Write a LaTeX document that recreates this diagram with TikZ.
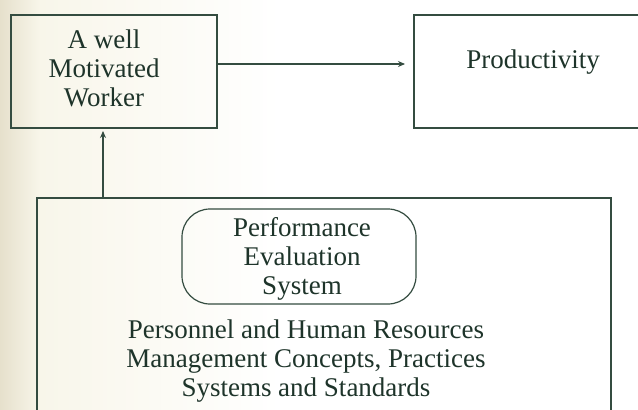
\documentclass[tikz,border=0pt]{standalone}
\usepackage{fontspec}
\setmainfont{Liberation Serif}
\usetikzlibrary{arrows.meta,shadings}
\definecolor{ink}{RGB}{30,52,42}
\definecolor{rule}{RGB}{52,76,64}
\definecolor{paper}{RGB}{230,224,204}
\definecolor{paperlight}{RGB}{248,246,234}
\begin{document}
\begin{tikzpicture}[x=1pt,y=-1pt,
  frame/.style={draw=rule,line width=1.2pt,inner sep=0pt},
  label/.style={text=ink,align=center,font=\fontsize{27}{29}\selectfont,inner sep=0pt},
  flow/.style={draw=rule,line width=1.2pt,-{Stealth[length=7pt,width=6pt]}}]
  % page and paper tint
  \useasboundingbox (0,0) rectangle (638,410);
  \clip (0,0) rectangle (638,410);
  \fill[white] (0,0) rectangle (638,410);
  \shade[left color=paper,right color=paperlight] (0,0) rectangle (40,410);
  \shade[left color=paperlight,right color=white] (40,0) rectangle (280,410);

  % top row
  \node[frame,minimum width=206,minimum height=113] (worker) at (114,71.5) {};
  \node[label] (workertext) at (104,68) {A well\\Motivated\\Worker};
  \node[frame,minimum width=226,minimum height=113] (prod) at (527,71.5) {};
  \node[label] (prodtext) at (533,62) {Productivity};
  \coordinate (prodin) at (405,64);
  \draw[flow] (worker.east |- prodin) -- (prodin);

  % lower frame running off the page
  \node[frame,minimum width=574,minimum height=240] (base) at (324,318) {};
  \node[frame,rounded corners=28,minimum width=234,minimum height=95] (pes) at (299,256.5) {};
  \node[label] (pestext) at (302,259) {Performance\\Evaluation\\System};
  \node[label] (hrm) at (306,361) {Personnel and Human Resources\\Management Concepts, Practices\\Systems and Standards};
  \coordinate (workerin) at (103,131);
  \draw[flow] (base.north -| workerin) -- (workerin);
\end{tikzpicture}
\end{document}
